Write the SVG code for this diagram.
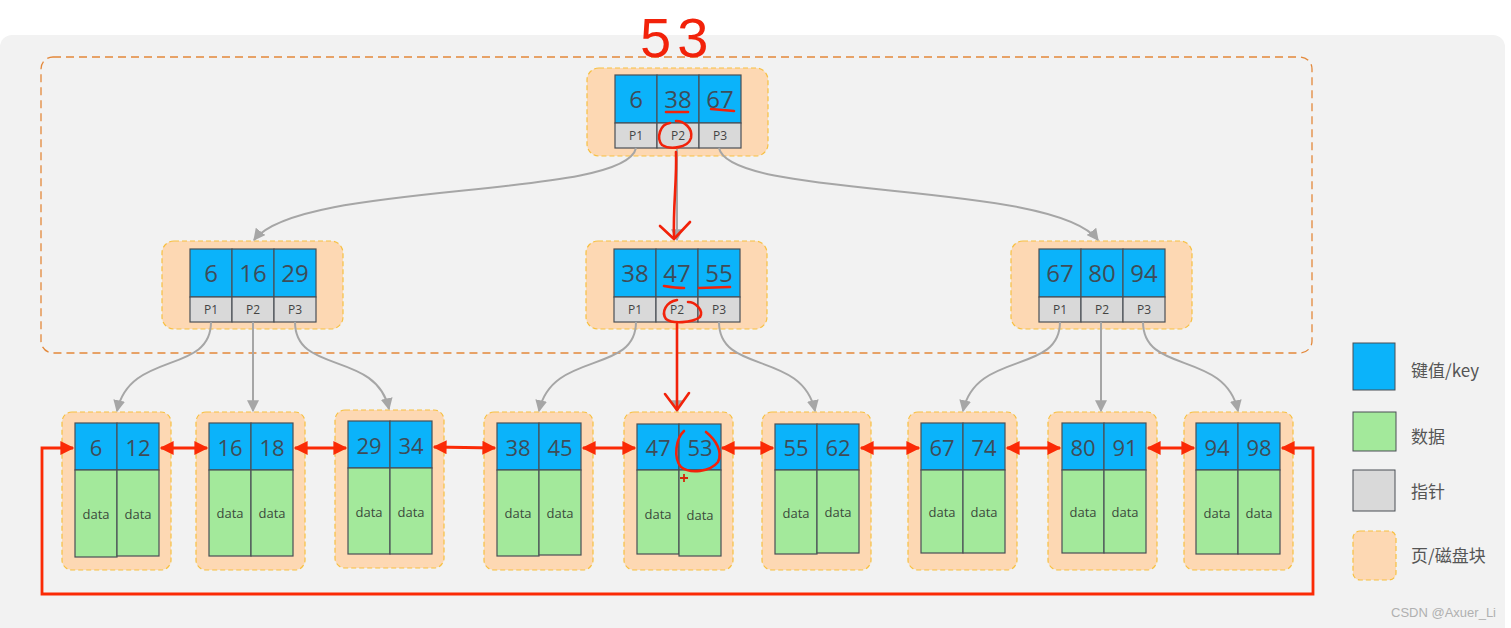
<svg xmlns="http://www.w3.org/2000/svg" width="1511" height="628" viewBox="0 0 1511 628">
<style>
.page{fill:#fdd8b3;stroke:#f7c041;stroke-width:1.2;stroke-dasharray:5 3}
.key{fill:#0bb3fa;stroke:#4a4f55;stroke-width:1.2}
.ptr{fill:#d9d9d9;stroke:#4a4f55;stroke-width:1.2}
.dat{fill:#a3e99b;stroke:#4a4f55;stroke-width:1.2}
.kt{font-family:"Open Sans","Liberation Sans",sans-serif;font-size:24px;fill:#3e4c58;text-anchor:middle}
.lt{font-family:"Open Sans","Liberation Sans",sans-serif;font-size:22px;fill:#3e4c58;text-anchor:middle}
.pt{font-family:"Open Sans","Liberation Sans",sans-serif;font-size:12px;fill:#444;text-anchor:middle}
.dt{font-family:"Open Sans","Liberation Sans",sans-serif;font-size:13px;fill:#3b4a3b;text-anchor:middle}
.gc{fill:none;stroke:#a6a6a6;stroke-width:2;marker-end:url(#ga)}
.rl{fill:none;stroke:#fb2a05;stroke-width:2.8;marker-start:url(#ra);marker-end:url(#ra)}
.hand{fill:none;stroke:#f2220a;stroke-width:2.6;stroke-linecap:round;stroke-linejoin:round}
.leg{font-family:"Noto Sans CJK SC","Noto Sans",sans-serif;font-size:17px;fill:#555}
</style>
<defs>
<marker id="ga" viewBox="0 0 10 10" refX="9" refY="5" markerWidth="12" markerHeight="12" markerUnits="userSpaceOnUse" orient="auto"><path d="M0,0 L10,5 L0,10 z" fill="#a6a6a6"/></marker>
<marker id="ra" viewBox="0 0 10 10" refX="9" refY="5" markerWidth="16" markerHeight="14" markerUnits="userSpaceOnUse" orient="auto-start-reverse"><path d="M0,0 L10,5 L0,10 z" fill="#fb2a05"/></marker>
</defs>
<rect x="0" y="0" width="1511" height="628" fill="#ffffff"/>
<rect x="0" y="35" width="1505" height="610" rx="12" fill="#f2f2f2"/>
<rect x="41" y="57" width="1271" height="296" rx="12" fill="none" stroke="#e3883a" stroke-width="1.3" stroke-dasharray="8 5"/>

<g id="root" transform="translate(587,68)">
<rect class="page" x="0" y="0" width="181" height="88" rx="12"/>
<rect class="key" x="28" y="7" width="42" height="48"/><rect class="key" x="70" y="7" width="42" height="48"/><rect class="key" x="112" y="7" width="42" height="48"/>
<rect class="ptr" x="28" y="55" width="42" height="25"/><rect class="ptr" x="70" y="55" width="42" height="25"/><rect class="ptr" x="112" y="55" width="42" height="25"/>
<text class="kt" x="49" y="40">6</text><text class="kt" x="91" y="40">38</text><text class="kt" x="133" y="40">67</text>
<text class="pt" x="49" y="72">P1</text><text class="pt" x="91" y="72">P2</text><text class="pt" x="133" y="72">P3</text>
</g>

<g id="mid-left" transform="translate(162,241)">
<rect class="page" x="0" y="0" width="181" height="88" rx="12"/>
<rect class="key" x="28" y="8" width="42" height="48"/><rect class="key" x="70" y="8" width="42" height="48"/><rect class="key" x="112" y="8" width="42" height="48"/>
<rect class="ptr" x="28" y="56" width="42" height="25"/><rect class="ptr" x="70" y="56" width="42" height="25"/><rect class="ptr" x="112" y="56" width="42" height="25"/>
<text class="kt" x="49" y="41">6</text><text class="kt" x="91" y="41">16</text><text class="kt" x="133" y="41">29</text>
<text class="pt" x="49" y="73">P1</text><text class="pt" x="91" y="73">P2</text><text class="pt" x="133" y="73">P3</text>
</g>

<g id="mid-center" transform="translate(586,241)">
<rect class="page" x="0" y="0" width="181" height="88" rx="12"/>
<rect class="key" x="28" y="8" width="42" height="48"/><rect class="key" x="70" y="8" width="42" height="48"/><rect class="key" x="112" y="8" width="42" height="48"/>
<rect class="ptr" x="28" y="56" width="42" height="25"/><rect class="ptr" x="70" y="56" width="42" height="25"/><rect class="ptr" x="112" y="56" width="42" height="25"/>
<text class="kt" x="49" y="41">38</text><text class="kt" x="91" y="41">47</text><text class="kt" x="133" y="41">55</text>
<text class="pt" x="49" y="73">P1</text><text class="pt" x="91" y="73">P2</text><text class="pt" x="133" y="73">P3</text>
</g>

<g id="mid-right" transform="translate(1011,241)">
<rect class="page" x="0" y="0" width="181" height="88" rx="12"/>
<rect class="key" x="28" y="8" width="42" height="48"/><rect class="key" x="70" y="8" width="42" height="48"/><rect class="key" x="112" y="8" width="42" height="48"/>
<rect class="ptr" x="28" y="56" width="42" height="25"/><rect class="ptr" x="70" y="56" width="42" height="25"/><rect class="ptr" x="112" y="56" width="42" height="25"/>
<text class="kt" x="49" y="41">67</text><text class="kt" x="91" y="41">80</text><text class="kt" x="133" y="41">94</text>
<text class="pt" x="49" y="73">P1</text><text class="pt" x="91" y="73">P2</text><text class="pt" x="133" y="73">P3</text>
</g>

<g id="leaf1" transform="translate(62,412)">
<rect class="page" x="0" y="0" width="109" height="158" rx="10"/>
<rect class="key" x="13" y="11" width="42" height="47"/><rect class="key" x="55" y="11" width="42" height="47"/>
<rect class="dat" x="13" y="58" width="42" height="87"/><rect class="dat" x="55" y="58" width="42" height="86"/>
<text class="lt" x="34" y="44">6</text><text class="lt" x="76" y="44">12</text>
<text class="dt" x="34" y="107">data</text><text class="dt" x="76" y="107">data</text>
</g>
<g id="leaf2" transform="translate(196,412)">
<rect class="page" x="0" y="0" width="109" height="158" rx="10"/>
<rect class="key" x="13" y="11" width="42" height="47"/><rect class="key" x="55" y="11" width="42" height="47"/>
<rect class="dat" x="13" y="58" width="42" height="86"/><rect class="dat" x="55" y="58" width="42" height="86"/>
<text class="lt" x="34" y="44">16</text><text class="lt" x="76" y="44">18</text>
<text class="dt" x="34" y="106">data</text><text class="dt" x="76" y="106">data</text>
</g>
<g id="leaf3" transform="translate(335,410)">
<rect class="page" x="0" y="0" width="109" height="158" rx="10"/>
<rect class="key" x="13" y="11" width="42" height="47"/><rect class="key" x="55" y="11" width="42" height="47"/>
<rect class="dat" x="13" y="58" width="42" height="86"/><rect class="dat" x="55" y="58" width="42" height="86"/>
<text class="lt" x="34" y="44">29</text><text class="lt" x="76" y="44">34</text>
<text class="dt" x="34" y="107">data</text><text class="dt" x="76" y="107">data</text>
</g>
<g id="leaf4" transform="translate(484,412)">
<rect class="page" x="0" y="0" width="109" height="158" rx="10"/>
<rect class="key" x="13" y="11" width="42" height="47"/><rect class="key" x="55" y="11" width="42" height="47"/>
<rect class="dat" x="13" y="58" width="42" height="86"/><rect class="dat" x="55" y="58" width="42" height="85"/>
<text class="lt" x="34" y="44">38</text><text class="lt" x="76" y="44">45</text>
<text class="dt" x="34" y="106">data</text><text class="dt" x="76" y="106">data</text>
</g>
<g id="leaf5" transform="translate(624,412)">
<rect class="page" x="0" y="0" width="109" height="158" rx="10"/>
<rect class="key" x="13" y="12" width="42" height="46"/><rect class="key" x="55" y="12" width="42" height="46"/>
<rect class="dat" x="13" y="58" width="42" height="84"/><rect class="dat" x="55" y="58" width="42" height="86"/>
<text class="lt" x="34" y="44">47</text><text class="lt" x="76" y="44">53</text>
<text class="dt" x="34" y="107">data</text><text class="dt" x="76" y="108">data</text>
</g>
<g id="leaf6" transform="translate(762,412)">
<rect class="page" x="0" y="0" width="109" height="158" rx="10"/>
<rect class="key" x="13" y="12" width="42" height="46"/><rect class="key" x="55" y="12" width="42" height="46"/>
<rect class="dat" x="13" y="58" width="42" height="84"/><rect class="dat" x="55" y="58" width="42" height="83"/>
<text class="lt" x="34" y="44">55</text><text class="lt" x="76" y="44">62</text>
<text class="dt" x="34" y="106">data</text><text class="dt" x="76" y="105">data</text>
</g>
<g id="leaf7" transform="translate(908,412)">
<rect class="page" x="0" y="0" width="109" height="158" rx="10"/>
<rect class="key" x="13" y="11" width="42" height="47"/><rect class="key" x="55" y="11" width="42" height="47"/>
<rect class="dat" x="13" y="58" width="42" height="83"/><rect class="dat" x="55" y="58" width="42" height="83"/>
<text class="lt" x="34" y="44">67</text><text class="lt" x="76" y="44">74</text>
<text class="dt" x="34" y="105">data</text><text class="dt" x="76" y="105">data</text>
</g>
<g id="leaf8" transform="translate(1048,412)">
<rect class="page" x="0" y="0" width="109" height="158" rx="10"/>
<rect class="key" x="14" y="11" width="42" height="47"/><rect class="key" x="56" y="11" width="42" height="47"/>
<rect class="dat" x="14" y="58" width="42" height="83"/><rect class="dat" x="56" y="58" width="42" height="83"/>
<text class="lt" x="35" y="44">80</text><text class="lt" x="77" y="44">91</text>
<text class="dt" x="35" y="105">data</text><text class="dt" x="77" y="105">data</text>
</g>
<g id="leaf9" transform="translate(1184,412)">
<rect class="page" x="0" y="0" width="109" height="158" rx="10"/>
<rect class="key" x="12" y="11" width="42" height="47"/><rect class="key" x="54" y="11" width="42" height="47"/>
<rect class="dat" x="12" y="58" width="42" height="84"/><rect class="dat" x="54" y="58" width="42" height="84"/>
<text class="lt" x="33" y="44">94</text><text class="lt" x="75" y="44">98</text>
<text class="dt" x="33" y="106">data</text><text class="dt" x="75" y="106">data</text>
</g>

<g id="connectors">
<path class="gc" d="M636,148 C625,200 300,180 254,240"/>
<path class="gc" d="M677,148 L677,240"/>
<path class="gc" d="M719,148 C730,200 1052,180 1098,240"/>
<path class="gc" d="M211,322 C211,375 130,350 117,411"/>
<path class="gc" d="M253,322 L253,411"/>
<path class="gc" d="M295,322 C295,375 376,350 389,409"/>
<path class="gc" d="M636,322 C636,375 552,350 539,411"/>
<path class="gc" d="M677,322 L677,411"/>
<path class="gc" d="M719,322 C719,375 802,350 815,411"/>
<path class="gc" d="M1060,322 C1060,375 976,350 963,411"/>
<path class="gc" d="M1101,322 L1101,411"/>
<path class="gc" d="M1143,322 C1143,375 1225,350 1238,411"/>
<path class="rl" d="M161,448 L207,448"/>
<path class="rl" d="M295,448 L346,448"/>
<path class="rl" d="M434,447 L495,448"/>
<path class="rl" d="M583,448 L635,448"/>
<path class="rl" d="M722,448 L773,448"/>
<path class="rl" d="M861,448 L919,448"/>
<path class="rl" d="M1007,448 L1060,448"/>
<path class="rl" d="M1148,448 L1194,448"/>
<path class="rl" d="M1282,448 L1313,448 L1313,594 L42,594 L42,448 L73,448"/>
</g>

<g id="annotations">
<text x="640" y="57" font-family="Liberation Sans, sans-serif" font-size="56" letter-spacing="6" fill="#f2220a">53</text>
<path class="hand" d="M666,112 L688,112"/>
<path class="hand" d="M711,109 L734,111"/>
<path class="hand" d="M670,123 C660,124 656,138 662,145 C670,150 688,148 691,138 C693,128 684,121 676,121"/>
<path class="hand" d="M676,152 C677,180 673,205 674,238"/>
<path class="hand" d="M660,226 L674,239 L690,222"/>
<path class="hand" d="M664,286 C670,287 678,288 684,288"/>
<path class="hand" d="M699,288 L730,287"/>
<path class="hand" d="M677,300 C666,302 661,312 666,319 C672,324 692,323 700,317 C704,310 695,302 688,302"/>
<path class="hand" d="M677,324 L677,410"/>
<path class="hand" d="M665,394 L677,410 L689,393"/>
<path class="hand" d="M684,431 C676,438 673,458 681,467 C690,474 710,472 718,462 C723,452 716,440 706,432"/>
<path d="M680,478 L688,478 M684,474 L684,482" stroke="#d42a0a" stroke-width="1.8" fill="none"/>
</g>

<g id="legend">
<rect x="1353" y="343" width="42" height="47" fill="#0bb3fa" stroke="#4a4f55" stroke-width="1"/>
<text class="leg" x="1411" y="377">键值/key</text>
<rect x="1353" y="412" width="43" height="39" fill="#a3e99b" stroke="#4a4f55" stroke-width="1"/>
<text class="leg" x="1411" y="443">数据</text>
<rect x="1353" y="470" width="42" height="41" fill="#d9d9d9" stroke="#4a4f55" stroke-width="1"/>
<text class="leg" x="1411" y="498">指针</text>
<rect class="page" x="1353" y="531" width="43" height="49" rx="7"/>
<text class="leg" x="1411" y="562">页/磁盘块</text>
<text x="1496" y="617" text-anchor="end" font-family="Liberation Sans, sans-serif" font-size="13" fill="#b0b0b0">CSDN @Axuer_Li</text>
</g>
</svg>
